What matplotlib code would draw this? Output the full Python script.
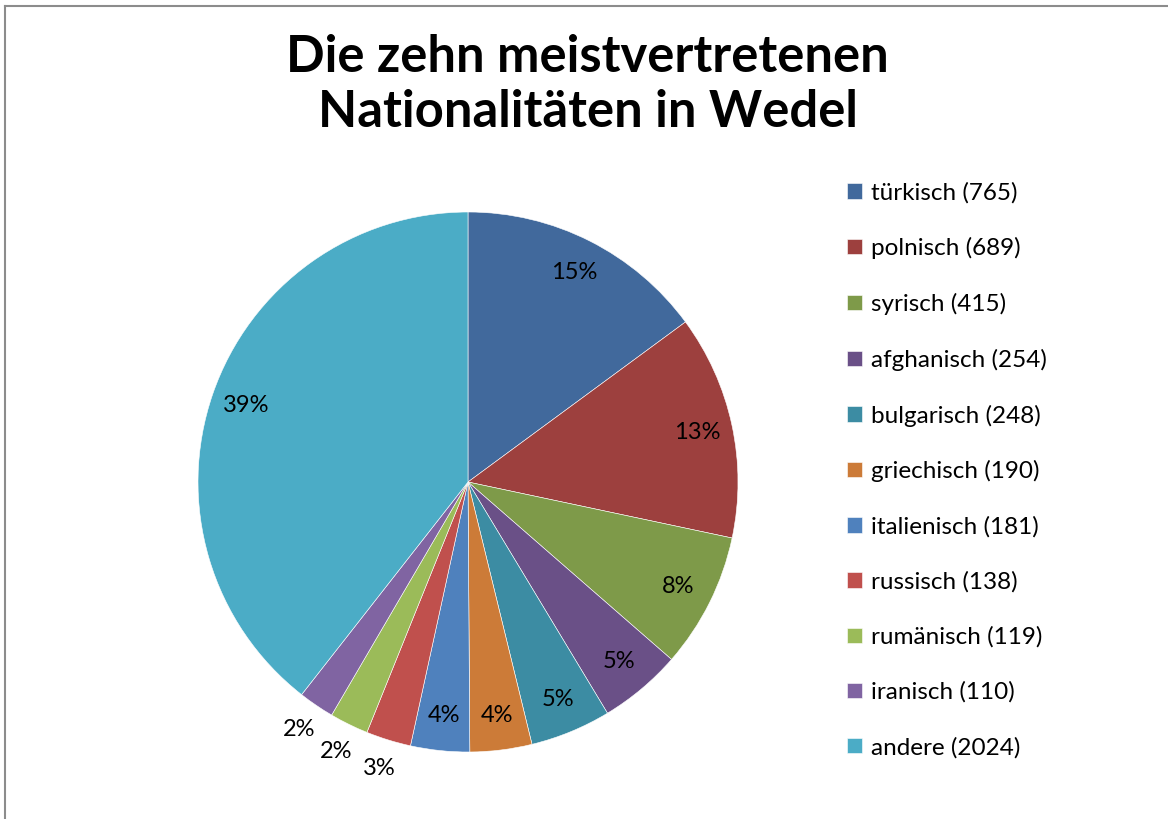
import matplotlib
matplotlib.use("Agg")
import matplotlib.pyplot as plt
from matplotlib.lines import Line2D
import numpy as np

categories = ["türkisch", "polnisch", "syrisch", "afghanisch", "bulgarisch",
              "griechisch", "italienisch", "russisch", "rumänisch", "iranisch", "andere"]
values = [765, 689, 415, 254, 248, 190, 181, 138, 119, 110, 2024]
colors = ["#41699C", "#9D403E", "#7E9A49", "#6A5087", "#3C8CA3",
          "#CC7B38", "#4F81BD", "#C0504D", "#9BBB59", "#8064A2", "#4BACC6"]
outside = [False, False, False, False, False, False, False, True, True, True, False]
title = "Die zehn meistvertretenen\nNationalitäten in Wedel"

W, H = 1168, 819
fig = plt.figure(figsize=(W / 100, H / 100), dpi=100)
fig.patch.set_facecolor("white")

cx, cy, r = 468, 482, 270
ax = fig.add_axes([(cx - r) / W, (H - cy - r) / H, 2 * r / W, 2 * r / H])
wedges, texts, autotexts = ax.pie(
    values, colors=colors, startangle=90, counterclock=False,
    autopct=lambda p: f"{p:.0f}%", pctdistance=0.87,
    wedgeprops=dict(edgecolor="white", linewidth=0.4),
    textprops=dict(fontsize=17, family="Lato", color="black"))
ax.set_xlim(-1, 1)
ax.set_ylim(-1, 1)
ax.set_aspect("equal")

for w, t, out in zip(wedges, autotexts, outside):
    ang = np.deg2rad((w.theta1 + w.theta2) / 2)
    d = 1.11 if out else 0.87
    t.set_position((d * np.cos(ang), d * np.sin(ang)))

labels = [f"{c} ({v})" for c, v in zip(categories, values)]
leg = ax.legend(wedges, labels, loc="upper left",
                bbox_to_anchor=(847 / W, 1 - 182 / H), bbox_transform=fig.transFigure,
                frameon=False, prop=dict(family="Lato", size=17.5),
                handlelength=0.6, handleheight=0.6, handletextpad=0.38,
                labelspacing=1.385, borderaxespad=0, borderpad=0)

fig.text(0.5 * (287 + 888) / W, 1 - 85 / H, title, ha="center", va="center",
         fontsize=36.5, fontweight="bold", family="Lato", linespacing=1.2)

fig.add_artist(Line2D([5 / W, 5 / W], [0, 1 - 6 / H], color="#8C8C8C", lw=1.5,
                      transform=fig.transFigure))
fig.add_artist(Line2D([5 / W, 1], [1 - 6 / H, 1 - 6 / H], color="#8C8C8C", lw=1.5,
                      transform=fig.transFigure))

fig.savefig("out.png", dpi=100, facecolor="white")
